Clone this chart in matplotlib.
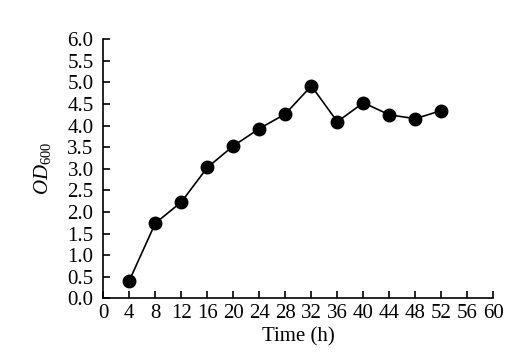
import matplotlib
matplotlib.use("Agg")
import matplotlib.pyplot as plt

plt.rcParams['font.family'] = ['Liberation Serif', 'DejaVu Serif']
plt.rcParams['mathtext.fontset'] = 'custom'
plt.rcParams['mathtext.rm'] = 'Liberation Serif'
plt.rcParams['mathtext.it'] = 'Liberation Serif:italic'

time_h = [4, 8, 12, 16, 20, 24, 28, 32, 36, 40, 44, 48, 52]
od600 = [0.41, 1.74, 2.23, 3.03, 3.53, 3.93, 4.27, 4.92, 4.09, 4.53, 4.25, 4.16, 4.35]

fig = plt.figure(figsize=(5.26, 3.57), dpi=100)
ax = fig.add_axes([0.1964, 0.1644, 0.7416, 0.7256])

ax.plot(time_h, od600, color='black', linewidth=1.2, marker='o', markersize=9)

ax.set_xlim(0, 60)
ax.set_ylim(0, 6)
ax.set_xticks(range(0, 61, 4))
ax.set_yticks([i * 0.5 for i in range(13)])
ax.set_yticklabels(['%.1f' % (i * 0.5) for i in range(13)])

for s in ['top', 'right']:
    ax.spines[s].set_visible(False)
for s in ['left', 'bottom']:
    ax.spines[s].set_linewidth(1.2)

ax.tick_params(direction='in', length=5, width=1.2, labelsize=15)
ax.tick_params(axis='y', pad=7)
ax.tick_params(axis='x', pad=4)

ax.set_xlabel('Time (h)', fontsize=15, labelpad=3)
ax.set_ylabel(r'$\mathit{OD}_{600}$', fontsize=15, labelpad=10)

fig.savefig('out.png', dpi=100)
